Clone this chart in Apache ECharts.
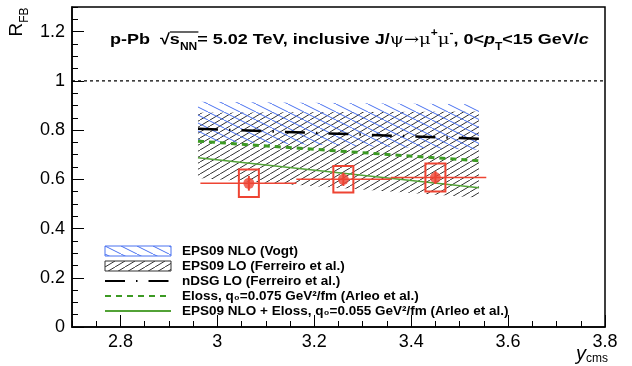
<!DOCTYPE html>
<html>
<head>
<meta charset="utf-8">
<script src="https://cdn.jsdelivr.net/npm/echarts@6/dist/echarts.min.js"></script>
<style>html,body{margin:0;padding:0;background:#fff}#chart{width:632px;height:366px}</style>
</head>
<body>
<div id="chart"></div>
<script>
var xTicks = [2.8, 3, 3.2, 3.4, 3.6, 3.8];
var yTicks = [0, 0.2, 0.4, 0.6, 0.8, 1, 1.2];

// ALICE points
var ptX = [3.065, 3.26, 3.45];
var ptY = [0.584, 0.600, 0.607];
var binLo = [2.965, 3.163, 3.358];
var binHi = [3.163, 3.358, 3.555];
var statErr = [0.030, 0.027, 0.026];
var sysErr = [0.056, 0.054, 0.057];

// models
var bandX = [2.96, 3.54];
var vogtLo = [0.755, 0.72];
var vogtHi = [0.915, 0.905];
var ferLo = [0.605, 0.525];
var ferHi = [0.87, 0.875];
var ndsg = [0.805, 0.765];
var eloss075 = [0.755, 0.675];
var eps09Eloss = [0.688, 0.566];

var RED = '#ee4433', BLUE = '#4a72f0', GREEN = '#3c9a23', GREEN2 = '#52a236';
var FONT = 'Liberation Sans, Arial, Helvetica, sans-serif';

function hatch(color, w, h, up) {
    var c = document.createElement('canvas');
    c.width = w; c.height = h;
    var g = c.getContext('2d');
    g.strokeStyle = color; g.lineWidth = 1;
    for (var dx = -w; dx <= w; dx += w) {
        g.beginPath();
        if (up) { g.moveTo(dx, h); g.lineTo(dx + w, 0); }
        else { g.moveTo(dx, 0); g.lineTo(dx + w, h); }
        g.stroke();
    }
    return {image: c, repeat: 'repeat'};
}
var bluePat = hatch(BLUE, 16, 8, false);
var blackPat = hatch('#333', 10, 6, true);

function pairs(ys) {
    return bandX.map(function(x, i){ return [x, ys[i]]; });
}

function band(name, lo, hi, pat, border) {
    var d = bandX.map(function(x, i){ return [x, lo[i], hi[i]]; });
    return {
        name: name, type: 'custom', z: 1,
        itemStyle: {color: pat, borderColor: border},
        data: d,
        renderItem: function(params, api) {
            if (params.dataIndex !== 0) return;
            var pts = [];
            for (var i = 0; i < d.length; i++) pts.push(api.coord([d[i][0], d[i][2]]));
            for (var j = d.length - 1; j >= 0; j--) pts.push(api.coord([d[j][0], d[j][1]]));
            return {type: 'polygon', shape: {points: pts}, style: {fill: pat, stroke: null}};
        }
    };
}

function line(name, ys, color, width, dash) {
    return {
        name: name, type: 'line', z: 2, symbol: 'none', data: pairs(ys),
        lineStyle: {color: color, width: width, type: dash},
        itemStyle: {color: color}
    };
}

// title metrics, for the bar over s_NN
var TX = 110, TY = 40, TS = 15, TSX = 1.2;
var ctx = document.createElement('canvas').getContext('2d');
ctx.font = 'bold ' + TS + 'px Liberation Sans';
var ovX1 = TX + TSX * ctx.measureText('p-Pb  √').width;
var wS = ctx.measureText('s').width;
ctx.font = 'bold 10px Liberation Sans';
var ovX2 = ovX1 + TSX * (wS + ctx.measureText('NN').width + 1);

var errData = ptX.map(function(x, i){ return [x, ptY[i], binLo[i], binHi[i], statErr[i], sysErr[i]]; });
var noSym = {color: 'rgba(0,0,0,0)', borderWidth: 0};

var myChart = echarts.init(document.getElementById('chart'));
var option = {
    animation: false,
    grid: {left: 72, right: 27, top: 7, bottom: 39, show: true, borderColor: '#000', borderWidth: 1.5},
    legend: {
        orient: 'vertical', left: 99, top: 239,
        itemWidth: 66, itemHeight: 10, itemGap: 1,
        textStyle: {fontFamily: FONT, fontSize: 13.5, fontWeight: 'bold', color: '#000', lineHeight: 13, padding: [0, 0, 0, 6]},
        data: [
            {name: 'EPS09 NLO (Vogt)', icon: 'rect', itemStyle: {color: bluePat, borderColor: BLUE, borderWidth: 1}},
            {name: 'EPS09 LO (Ferreiro et al.)', icon: 'rect', itemStyle: {color: blackPat, borderColor: '#333', borderWidth: 1}},
            {name: 'nDSG LO (Ferreiro et al.)', itemStyle: noSym},
            {name: 'Eloss, q₀=0.075 GeV²/fm (Arleo et al.)', itemStyle: noSym},
            {name: 'EPS09 NLO + Eloss, q₀=0.055 GeV²/fm (Arleo et al.)', itemStyle: noSym}
        ]
    },
    xAxis: [
        {
            type: 'value', min: 2.7, max: 3.8,
            axisLine: {onZero: false, lineStyle: {color: '#000', width: 1.5}},
            axisTick: {inside: true, length: 12, customValues: xTicks, lineStyle: {color: '#000'}},
            axisLabel: {customValues: xTicks, color: '#000', fontSize: 18, fontFamily: FONT, margin: 6},
            splitLine: {show: false}
        },
        {
            type: 'value', min: 2.7, max: 3.8, interval: 0.05, position: 'bottom',
            axisLine: {show: false},
            axisTick: {inside: true, length: 6, lineStyle: {color: '#000'}},
            axisLabel: {show: false}, splitLine: {show: false}
        }
    ],
    yAxis: [
        {
            type: 'value', min: 0, max: 1.3,
            axisLine: {onZero: false, lineStyle: {color: '#000', width: 1.5}},
            axisTick: {inside: true, length: 12, customValues: yTicks, lineStyle: {color: '#000'}},
            axisLabel: {customValues: yTicks, color: '#000', fontSize: 18, fontFamily: FONT, margin: 7},
            splitLine: {show: false}
        },
        {
            type: 'value', min: 0, max: 1.3, interval: 0.05, position: 'left',
            axisLine: {show: false},
            axisTick: {inside: true, length: 6, lineStyle: {color: '#000'}},
            axisLabel: {show: false}, splitLine: {show: false}
        }
    ],
    graphic: [
        {
            type: 'text', x: TX, y: TY, scaleX: TSX,
            style: {
                text: 'p-Pb  √{b|s}{sub|NN}= 5.02 TeV, inclusive J/{g|ψ→μ}{sup|+}{g|μ}{sup|-}, 0<{i|p}{sub|T}<15 GeV/{i|c}',
                verticalAlign: 'middle',
                fontFamily: FONT, fontSize: TS, fontWeight: 'bold', fill: '#000',
                rich: {
                    b: {fontFamily: FONT, fontSize: TS, fontWeight: 'bold', fill: '#000'},
                    sub: {fontFamily: FONT, fontSize: 10, fontWeight: 'bold', fill: '#000', verticalAlign: 'bottom', lineHeight: 24},
                    sup: {fontFamily: FONT, fontSize: 10, fontWeight: 'bold', fill: '#000', verticalAlign: 'top', lineHeight: 22},
                    g: {fontFamily: 'DejaVu Serif', fontSize: TS, fontWeight: 'normal', fill: '#000'},
                    i: {fontFamily: FONT, fontSize: TS, fontWeight: 'bold', fontStyle: 'italic', fill: '#000'}
                }
            }
        },
        {
            type: 'line', shape: {x1: ovX1, y1: TY - 8, x2: ovX2, y2: TY - 8},
            style: {stroke: '#000', lineWidth: 1.2}
        },
        {
            type: 'text', x: 17, y: 22, rotation: Math.PI / 2,
            style: {
                text: '{r|R}{s|FB}', align: 'center', verticalAlign: 'middle',
                rich: {
                    r: {fontFamily: FONT, fontSize: 19, fill: '#000'},
                    s: {fontFamily: FONT, fontSize: 12, fill: '#000', verticalAlign: 'bottom', lineHeight: 28}
                }
            }
        },
        {
            type: 'text', right: 24, bottom: 1,
            style: {
                text: '{y|y}{s|cms}',
                rich: {
                    y: {fontFamily: FONT, fontSize: 20, fontStyle: 'italic', fill: '#000'},
                    s: {fontFamily: FONT, fontSize: 12, fill: '#000', verticalAlign: 'bottom', lineHeight: 22}
                }
            }
        }
    ],
    series: [
        band('EPS09 LO (Ferreiro et al.)', ferLo, ferHi, blackPat, '#333'),
        band('EPS09 NLO (Vogt)', vogtLo, vogtHi, bluePat, BLUE),
        line('nDSG LO (Ferreiro et al.)', ndsg, '#000', 2.5, [20, 11, 1.5, 11]),
        line('Eloss, q₀=0.075 GeV²/fm (Arleo et al.)', eloss075, GREEN, 3, [6, 5]),
        line('EPS09 NLO + Eloss, q₀=0.055 GeV²/fm (Arleo et al.)', eps09Eloss, GREEN2, 1.5, 'solid'),
        {
            name: 'unity', type: 'line', symbol: 'none', z: 2,
            data: [[2.7, 1], [3.8, 1]],
            lineStyle: {color: '#000', width: 1.2, type: [3, 3]}
        },
        {
            name: 'errors', type: 'custom', z: 3, data: errData,
            renderItem: function(params, api) {
                var x = api.value(0), y = api.value(1);
                var l = api.coord([api.value(2), y]);
                var r = api.coord([api.value(3), y]);
                var c = api.coord([x, y]);
                var st = api.coord([x, y + api.value(4)]);
                var sb = api.coord([x, y - api.value(4)]);
                var bt = api.coord([x, y + api.value(5)]);
                var bb = api.coord([x, y - api.value(5)]);
                return {type: 'group', children: [
                    {type: 'line', shape: {x1: l[0], y1: l[1], x2: r[0], y2: r[1]}, style: {stroke: RED, lineWidth: 1.5}},
                    {type: 'line', shape: {x1: c[0], y1: st[1], x2: c[0], y2: sb[1]}, style: {stroke: RED, lineWidth: 2}},
                    {type: 'rect', shape: {x: c[0] - 10, y: bt[1], width: 20, height: bb[1] - bt[1]}, style: {fill: null, stroke: RED, lineWidth: 2}}
                ]};
            }
        },
        {
            name: 'ALICE', type: 'scatter', z: 4, symbol: 'circle', symbolSize: 11,
            data: ptX.map(function(x, i){ return [x, ptY[i]]; }),
            itemStyle: {color: RED}
        }
    ]
};
myChart.setOption(option);
</script>
</body>
</html>
